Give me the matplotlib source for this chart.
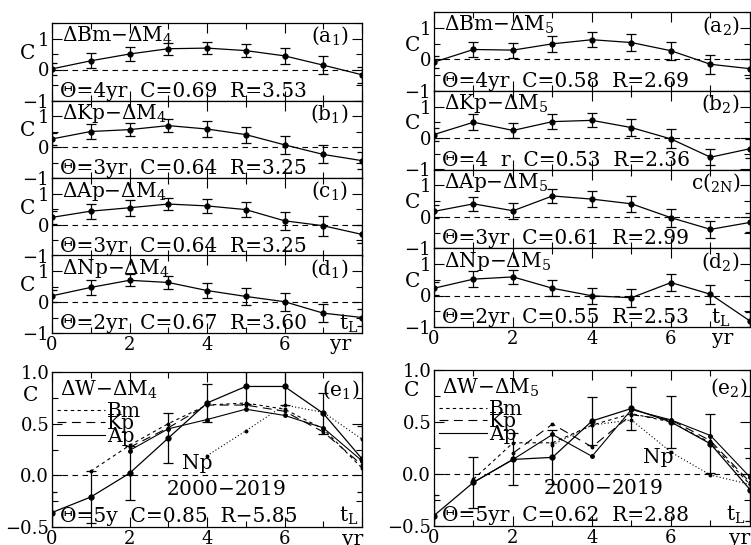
import matplotlib
matplotlib.use('Agg')
import matplotlib.pyplot as plt
from matplotlib.lines import Line2D
from matplotlib.ticker import MultipleLocator, FixedLocator, FuncFormatter
import matplotlib.transforms as mtrans

plt.rcParams['font.family'] = 'DejaVu Serif'
plt.rcParams['mathtext.fontset'] = 'dejavuserif'
FS = 14.5
TFS = 13

years = [0, 1, 2, 3, 4, 5, 6, 7, 8]

# small panels: correlation C and its error, per lead time (yr)
a1_c = [0.02, 0.28, 0.50, 0.67, 0.69, 0.61, 0.44, 0.14, -0.17]
a1_e = [0.20, 0.24, 0.22, 0.19, 0.19, 0.21, 0.26, 0.29, 0.26]
b1_c = [0.26, 0.50, 0.56, 0.69, 0.58, 0.40, 0.07, -0.24, -0.44]
b1_e = [0.20, 0.25, 0.22, 0.20, 0.25, 0.26, 0.30, 0.29, 0.28]
c1_c = [0.23, 0.43, 0.54, 0.66, 0.60, 0.48, 0.12, -0.04, -0.32]
c1_e = [0.20, 0.24, 0.26, 0.20, 0.23, 0.25, 0.29, 0.32, 0.29]
d1_c = [0.20, 0.47, 0.70, 0.63, 0.37, 0.18, 0.01, -0.36, -0.50]
d1_e = [0.20, 0.25, 0.19, 0.20, 0.25, 0.28, 0.29, 0.30, 0.28]

a2_c = [-0.09, 0.31, 0.29, 0.49, 0.62, 0.53, 0.27, -0.16, -0.30]
a2_e = [0.20, 0.24, 0.24, 0.25, 0.23, 0.26, 0.29, 0.31, 0.30]
b2_c = [0.11, 0.50, 0.24, 0.52, 0.56, 0.33, -0.03, -0.61, -0.34]
b2_e = [0.20, 0.25, 0.25, 0.24, 0.22, 0.28, 0.30, 0.26, 0.30]
c2_c = [0.17, 0.41, 0.19, 0.66, 0.56, 0.41, -0.03, -0.40, -0.18]
c2_e = [0.20, 0.23, 0.25, 0.21, 0.25, 0.26, 0.29, 0.27, 0.30]
d2_c = [0.23, 0.52, 0.59, 0.23, -0.01, -0.07, 0.41, 0.04, -0.81]
d2_e = [0.20, 0.25, 0.21, 0.26, 0.26, 0.28, 0.27, 0.30, 0.30]

# bottom panels
e1_w = [-0.36, -0.21, 0.02, 0.36, 0.70, 0.86, 0.86, 0.60, 0.16]
e1_err = [0.20, 0.25, 0.26, 0.24, 0.18, 0.17, 0.18, 0.20, 0.32]
e1_bm_x = [1, 2, 3, 4, 5, 6, 7, 8]
e1_bm = [0.04, 0.29, 0.50, 0.68, 0.70, 0.64, 0.45, 0.07]
e1_kp_x = [2, 3, 4, 5, 6, 7, 8]
e1_kp = [0.27, 0.46, 0.68, 0.68, 0.62, 0.42, 0.10]
e1_ap_x = [2, 3, 4, 5, 6, 7, 8]
e1_ap = [0.24, 0.45, 0.54, 0.64, 0.58, 0.46, 0.14]
e1_np_x = [4, 5, 6, 7, 8]
e1_np = [0.19, 0.43, 0.68, 0.61, 0.35]

e2_w = [-0.40, -0.08, 0.14, 0.16, 0.51, 0.63, 0.50, 0.29, -0.15]
e2_err = [0.20, 0.245, 0.25, 0.26, 0.23, 0.21, 0.25, 0.285, 0.30]
e2_bm_x = [1, 2, 3, 4, 5, 6, 7, 8]
e2_bm = [-0.05, 0.30, 0.30, 0.47, 0.58, 0.50, 0.30, -0.10]
e2_kp_x = [2, 3, 4, 5, 6, 7, 8]
e2_kp = [0.20, 0.48, 0.26, 0.57, 0.52, 0.32, -0.08]
e2_ap_x = [1, 2, 3, 4, 5, 6, 7, 8]
e2_ap = [-0.08, 0.14, 0.38, 0.17, 0.62, 0.52, 0.37, -0.03]
e2_np_x = [3, 4, 5, 6, 7, 8]
e2_np = [0.28, 0.47, 0.52, 0.21, -0.01, -0.10]

small_left = [
    (a1_c, a1_e, r'$\Delta$Bm$-\Delta$M$_4$', r'(a$_1$)', u'\u0398=4yr  C=0.69  R=3.53'),
    (b1_c, b1_e, r'$\Delta$Kp$-\Delta$M$_4$', r'(b$_1$)', u'\u0398=3yr  C=0.64  R=3.25'),
    (c1_c, c1_e, r'$\Delta$Ap$-\Delta$M$_4$', r'(c$_1$)', u'\u0398=3yr  C=0.64  R=3.25'),
    (d1_c, d1_e, r'$\Delta$Np$-\Delta$M$_4$', r'(d$_1$)', u'\u0398=2yr  C=0.67  R=3.60'),
]
small_right = [
    (a2_c, a2_e, r'$\Delta$Bm$-\Delta$M$_5$', r'(a$_2$)', u'\u0398=4yr  C=0.58  R=2.69'),
    (b2_c, b2_e, r'$\Delta$Kp$-\Delta$M$_5$', r'(b$_2$)', u'\u0398=4  r  C=0.53  R=2.36'),
    (c2_c, c2_e, r'$\Delta$Ap$-\Delta$M$_5$', r'c($_{\rm 2N}$)', u'\u0398=3yr  C=0.61  R=2.99'),
    (d2_c, d2_e, r'$\Delta$Np$-\Delta$M$_5$', r'(d$_2$)', u'\u0398=2yr  C=0.55  R=2.53'),
]

W, H = 751.0, 545.0
fig = plt.figure(figsize=(7.51, 5.45), dpi=100)


def box(x0, top, w, h):
    return [x0 / W, (H - top - h) / H, w / W, h / H]


def hide8(v, pos):
    return '' if v > 7 else '%d' % v


def setup(ax, bottom_labels, ylim, yticks, yfmt, ymin):
    ax.set_xlim(0, 8)
    ax.set_ylim(*ylim)
    ax.xaxis.set_major_locator(MultipleLocator(2))
    ax.xaxis.set_minor_locator(MultipleLocator(1))
    ax.yaxis.set_major_locator(FixedLocator(yticks))
    ax.yaxis.set_minor_locator(MultipleLocator(ymin))
    ax.yaxis.set_major_formatter(FuncFormatter(yfmt))
    ax.xaxis.set_major_formatter(FuncFormatter(hide8))
    ax.tick_params(which='both', direction='in', top=True, right=True,
                   labelsize=TFS, width=0.8)
    ax.tick_params(which='major', length=7)
    ax.tick_params(which='minor', length=4)
    ax.tick_params(axis='x', pad=2, labelbottom=bottom_labels)
    ax.tick_params(axis='y', pad=2)
    for s in ax.spines.values():
        s.set_linewidth(0.9)
    ax.axhline(0, color='k', ls=(0, (5, 4)), lw=0.8)


def int_fmt(v, pos):
    return ('%d' % round(v)).replace('-', u'\u2212')


def dec_fmt(v, pos):
    return ('%.1f' % v).replace('-', u'\u2212')


def small_panel(ax, c, e, title, tag, stats, last, tag_x):
    setup(ax, last, (-1, 1.5), [-1, 0, 1], int_fmt, 0.5)
    ax.errorbar(years, c, yerr=e, color='k', lw=0.9, elinewidth=0.9, capsize=3.5,
                capthick=0.9, marker='o', ms=3.5)
    ax.text(0.25, 1.08, title, fontsize=FS, va='center', ha='left')
    ax.text(tag_x, 1.08, tag, fontsize=FS, va='center', ha='right')
    ax.text(0.2, -0.7, stats, fontsize=FS, va='center', ha='left')
    ax.set_ylabel('C', rotation=0, fontsize=FS, va='center', ha='center')


def tick_x(ax, xpos):
    trans = mtrans.blended_transform_factory(ax.transData, ax.transAxes)
    ax.text(xpos, -0.02, 'yr', transform=trans, fontsize=FS, ha='center', va='top')


# left column of small panels
for i, (c, e, title, tag, stats) in enumerate(small_left):
    ax = fig.add_axes(box(52, 23 + i * 77.5, 310, 77.5))
    small_panel(ax, c, e, title, tag, stats, i == 3, 7.65)
    ax.yaxis.set_label_coords(-0.08, 0.61)
    if i == 3:
        ax.text(7.65, -0.7, r't$_{\rm L}$', fontsize=FS, va='center', ha='center')
        tick_x(ax, 7.45)

# right column of small panels
for i, (c, e, title, tag, stats) in enumerate(small_right):
    ax = fig.add_axes(box(434, 12 + i * 78.75, 316, 78.75))
    small_panel(ax, c, e, title, tag, stats, i == 3, 7.75)
    ax.yaxis.set_label_coords(-0.068, 0.58)
    if i == 3:
        ax.text(7.25, -0.7, r't$_{\rm L}$', fontsize=FS, va='center', ha='center')
        tick_x(ax, 7.3)


def big_panel(ax, w, err, bm_x, bm, kp_x, kp, ap_x, ap, np_x, npv, title, tag, stats,
              np_pos, yr_pos, tag_x):
    setup(ax, True, (-0.5, 1.0), [-0.5, 0.0, 0.5, 1.0], dec_fmt, 0.25)
    ax.errorbar(years, w, yerr=err, color='k', lw=0.9, elinewidth=0.9, capsize=3.5,
                capthick=0.9, marker='o', ms=3.5)
    ax.plot(bm_x, bm, color='k', lw=0.8, ls=(0, (3, 3)), marker='o', ms=1.8)
    ax.plot(kp_x, kp, color='k', lw=0.8, ls=(0, (8, 5)), marker='o', ms=1.8)
    ax.plot(ap_x, ap, color='k', lw=0.8, marker='o', ms=2.5)
    ax.plot(np_x, npv, color='k', lw=0.8, ls=(0, (1, 2)), marker='o', ms=1.8)
    handles = [Line2D([], [], color='k', lw=0.8, ls=(0, (3, 3))),
               Line2D([], [], color='k', lw=0.8, ls=(0, (8, 5))),
               Line2D([], [], color='k', lw=0.8)]
    ax.legend(handles, ['Bm', 'Kp', 'Ap'], loc='upper left', bbox_to_anchor=(-0.03, 0.9),
              frameon=False, fontsize=FS, handlelength=2.4, handletextpad=0.1,
              labelspacing=-0.32, borderpad=0.2)
    ax.text(0.2, 0.83, title, fontsize=FS, va='center', ha='left')
    ax.text(tag_x, 0.83, tag, fontsize=FS, va='center', ha='right')
    ax.text(np_pos[0], np_pos[1], 'Np', fontsize=FS, va='center', ha='center')
    ax.text(np_pos[2], -0.14, '2000$-$2019', fontsize=FS, va='center', ha='center')
    ax.text(0.2, -0.4, stats, fontsize=FS, va='center', ha='left')
    ax.text(7.65, -0.39, r't$_{\rm L}$', fontsize=FS, va='center', ha='center')
    ax.set_ylabel('C', rotation=0, fontsize=FS, va='center', ha='center')
    tick_x(ax, yr_pos)


ax = fig.add_axes(box(52, 372, 310, 155))
big_panel(ax, e1_w, e1_err, e1_bm_x, e1_bm, e1_kp_x, e1_kp, e1_ap_x, e1_ap, e1_np_x, e1_np,
          r'$\Delta$W$-\Delta$M$_4$', r'(e$_1$)', u'\u0398=5y  C=0.85  R\u22125.85',
          (3.75, 0.11, 4.5), 7.75, 7.95)
ax.yaxis.set_label_coords(-0.068, 0.85)

ax = fig.add_axes(box(434, 370, 316, 156))
big_panel(ax, e2_w, e2_err, e2_bm_x, e2_bm, e2_kp_x, e2_kp, e2_ap_x, e2_ap, e2_np_x, e2_np,
          r'$\Delta$W$-\Delta$M$_5$', r'(e$_2$)', u'\u0398=5yr  C=0.62  R=2.88',
          (5.67, 0.16, 4.27), 7.75, 7.95)
ax.yaxis.set_label_coords(-0.07, 0.87)

fig.savefig('out.png', dpi=100)
